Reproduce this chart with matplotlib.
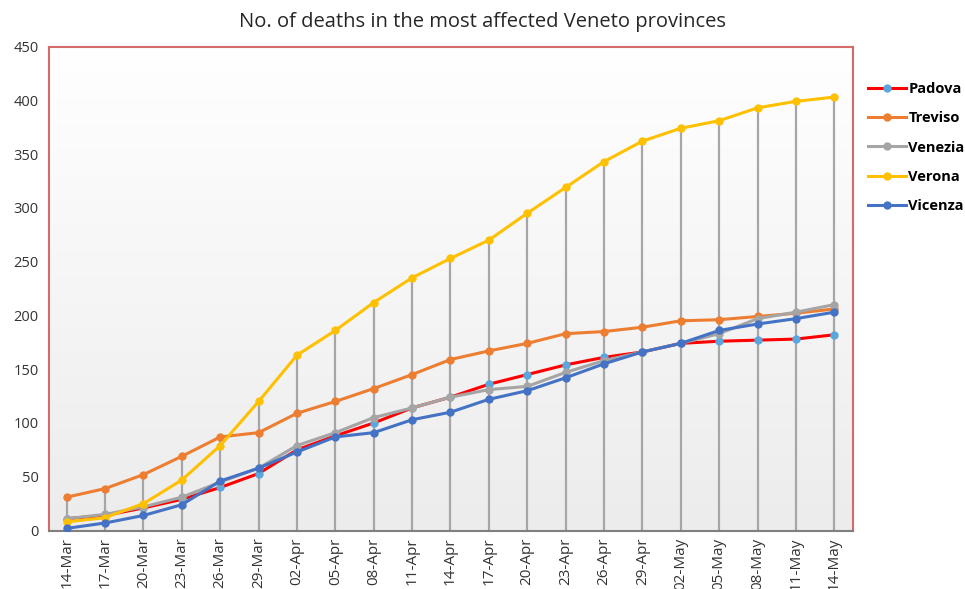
import numpy as np
import matplotlib
matplotlib.use("Agg")
import matplotlib.pyplot as plt

dates = ["14-Mar", "17-Mar", "20-Mar", "23-Mar", "26-Mar", "29-Mar", "02-Apr",
         "05-Apr", "08-Apr", "11-Apr", "14-Apr", "17-Apr", "20-Apr", "23-Apr",
         "26-Apr", "29-Apr", "02-May", "05-May", "08-May", "11-May", "14-May"]

padova = [11, 14, 21, 29, 40, 53, 75, 88, 100, 114, 124, 136, 145, 154, 161,
          166, 174, 176, 177, 178, 182]
treviso = [31, 39, 52, 69, 87, 91, 109, 120, 132, 145, 159, 167, 174, 183, 185,
           189, 195, 196, 199, 202, 206]
venezia = [11, 15, 22, 31, 45, 58, 79, 91, 105, 114, 124, 131, 134, 147, 158,
           166, 174, 183, 197, 203, 210]
verona = [8, 12, 25, 47, 79, 120, 163, 186, 212, 235, 253, 270, 295, 319, 343,
          362, 374, 381, 393, 399, 403]
vicenza = [2, 7, 14, 24, 46, 58, 73, 87, 91, 103, 110, 122, 130, 142, 155,
           166, 174, 186, 192, 197, 203]

series = [
    ("Padova", padova, "#ff0000", "#5aa7e0"),
    ("Treviso", treviso, "#ed7d31", "#ed7d31"),
    ("Venezia", venezia, "#a5a5a5", "#a5a5a5"),
    ("Verona", verona, "#ffc000", "#ffc000"),
    ("Vicenza", vicenza, "#4472c4", "#4472c4"),
]

plt.rcParams['font.family'] = ['Open Sans', 'DejaVu Sans']

fig = plt.figure(figsize=(9.65, 5.89), dpi=100)
ax = fig.add_axes([0.0503, 0.0993, 0.8337, 0.8217])

x = np.arange(len(dates))

# background gradient, white at top to light grey at the bottom
grad = np.linspace(0, 1, 256).reshape(-1, 1)
cmap = matplotlib.colors.LinearSegmentedColormap.from_list("bg", ["#ececec", "#ffffff"])
ax.imshow(grad, aspect="auto", cmap=cmap, origin="lower",
          extent=[-0.474, 20.49, 0, 450], zorder=0)

# drop lines from the top series down to the axis
top = np.max([s[1] for s in series], axis=0)
ax.vlines(x, 0, top, color="#a6a6a6", lw=1.6, zorder=1)

for name, vals, lc, mc in series:
    ax.plot(x, vals, color=lc, lw=2.2, marker="o", ms=5,
            markerfacecolor=mc, markeredgecolor=mc, label=name, zorder=3)

ax.set_xlim(-0.474, 20.49)
ax.set_ylim(0, 450)
ax.set_yticks(range(0, 451, 50))
ax.set_xticks(x)
ax.set_xticklabels(dates, rotation=90, fontsize=11, color="#333333")
ax.tick_params(axis="y", length=0, labelsize=10.5, labelcolor="#333333", pad=7)
ax.tick_params(axis="x", length=0, pad=5)

for side in ["left", "top", "right"]:
    ax.spines[side].set_color("#d46a6a")
    ax.spines[side].set_linewidth(1.5)
ax.spines["bottom"].set_color("#7f7f7f")
ax.spines["bottom"].set_linewidth(1.5)

fig.text(0.5, 0.962, "No. of deaths in the most affected Veneto provinces",
         ha="center", va="center", fontsize=14.5, color="#262626")

ax.legend(loc="upper left", bbox_to_anchor=(1.0, 0.957), frameon=False,
          handlelength=2.6, handletextpad=0.2,
          labelspacing=1.05, borderaxespad=0.6,
          prop={"weight": "bold", "size": 10.5})

fig.savefig("out.png", dpi=100)
